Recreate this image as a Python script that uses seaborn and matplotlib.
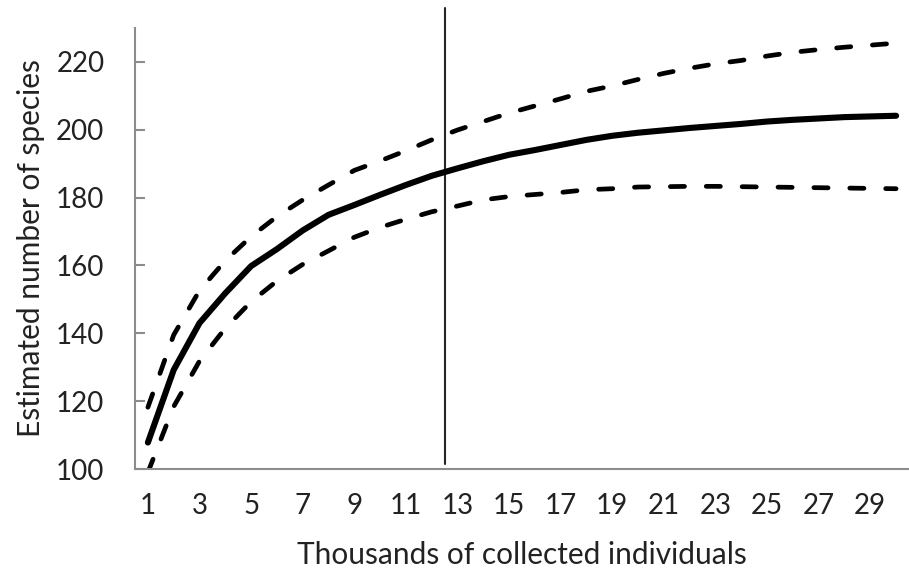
import matplotlib
matplotlib.use("Agg")
import matplotlib.pyplot as plt
import seaborn as sns
import numpy as np
import pandas as pd

thousands = list(range(1, 31))
estimate = [107.8, 129.2, 143.0, 151.8, 159.8, 164.8, 170.3, 174.9, 177.8, 180.8,
            183.7, 186.4, 188.6, 190.7, 192.6, 194.0, 195.5, 197.0, 198.2, 199.1,
            199.8, 200.5, 201.1, 201.7, 202.4, 202.9, 203.3, 203.7, 203.9, 204.1]
upper_ci = [118.2, 139.5, 152.6, 161.4, 168.5, 174.4, 179.3, 183.7, 188.0, 190.8,
            193.8, 197.0, 199.9, 202.4, 204.9, 207.0, 209.1, 211.3, 212.9, 214.8,
            216.6, 218.1, 219.4, 220.4, 221.7, 222.8, 223.6, 224.3, 224.9, 225.5]
lower_ci = [99.0, 118.4, 131.8, 141.5, 149.3, 155.4, 160.3, 164.3, 168.3, 171.2,
            173.6, 175.8, 177.5, 179.3, 180.3, 180.9, 181.5, 182.3, 182.6, 183.1,
            183.2, 183.3, 183.3, 183.2, 183.1, 183.0, 182.9, 182.8, 182.7, 182.6]
x_tick_labels = [str(v) for v in range(1, 30, 2)]
y_ticks = [100, 120, 140, 160, 180, 200, 220]
threshold = 12.5

sns.set_style("white")
plt.rcParams['font.family'] = ['Lato', 'DejaVu Sans']

fig = plt.figure(figsize=(9.09, 5.71), dpi=100)
ax = fig.add_axes([0.1485, 0.1786, 0.8515, 0.7726])

sns.lineplot(x=thousands, y=upper_ci, ax=ax, color='black', linewidth=3.4)
sns.lineplot(x=thousands, y=lower_ci, ax=ax, color='black', linewidth=3.4)
sns.lineplot(x=thousands, y=estimate, ax=ax, color='black', linewidth=4.4)

lines = ax.get_lines()
for ln in lines[:2]:
    ln.set_linestyle((0, (3.0, 4.6)))
    ln.set_dash_capstyle('round')
lines[2].set_solid_capstyle('round')
lines[2].set_solid_joinstyle('round')

ax.plot([threshold, threshold], [101.5, 235.9], color='#262626', linewidth=1.5,
        clip_on=False, zorder=1)

ax.set_xlim(0.5, 30.5)
ax.set_ylim(100, 230)
ax.set_xticks(list(range(1, 30, 2)))
ax.set_xticklabels(x_tick_labels)
ax.set_yticks(y_ticks)
ax.set_yticklabels([str(v) for v in y_ticks])

for side in ['top', 'right']:
    ax.spines[side].set_visible(False)
for side in ['left', 'bottom']:
    ax.spines[side].set_color('#8c8c8c')
    ax.spines[side].set_linewidth(1.5)

ax.tick_params(axis='y', direction='in', length=7, width=1.5, color='#8c8c8c',
               labelsize=20, labelcolor='#222222', pad=22, left=True)
ax.tick_params(axis='x', length=0, labelsize=20, labelcolor='#222222', pad=17)

ax.set_xlabel('Thousands of collected individuals', fontsize=21.5, color='#222222', labelpad=16)
ax.set_ylabel('Estimated number of species', fontsize=21.5, color='#222222', labelpad=8)

fig.savefig('out.png', dpi=100)
